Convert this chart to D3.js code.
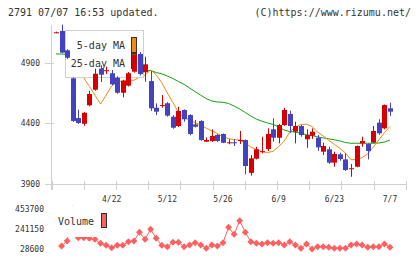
<!DOCTYPE html>
<html>
<head>
<meta charset="utf-8">
<script src="https://cdn.jsdelivr.net/npm/d3@7"></script>
<style>
body { margin: 0; background: #fff; }
svg text { font-family: "DejaVu Sans Mono", monospace; fill: #333; }
</style>
</head>
<body>
<div id="viz_div"></div>
<script>
// daily candles
var open_v  = [5150,5166,5005,4773,4443,4396,4549,4678,4853,4836,4815,4778,4653,4712,4828,4975,4823,4750,4529,4548,
               4566,4454,4377,4510,4468,4391,4419,4247,4253,4303,4311,4240,4242,4258,4261,3988,4106,4160,4186,4350,
               4280,4385,4477,4330,4377,4267,4297,4280,4164,4184,4073,4142,4100,4025,4039,4233,4228,4239,4405,4358,4524];
var high_v  = [5160,5218,5014,4780,4512,4492,4670,4853,4881,4870,4842,4790,4760,4825,4980,4990,4952,4834,4565,4634,
               4575,4468,4537,4515,4475,4427,4425,4283,4350,4310,4315,4267,4267,4336,4265,4136,4205,4288,4358,4441,
               4395,4529,4504,4413,4385,4350,4358,4302,4239,4205,4164,4156,4150,4062,4215,4288,4233,4377,4433,4555,4571];
var low_v   = [5148,4982,4933,4410,4395,4380,4541,4670,4742,4809,4715,4645,4615,4705,4820,4795,4745,4502,4468,4529,
               4455,4355,4369,4413,4300,4365,4255,4245,4245,4245,4235,4225,4211,4228,3976,3965,4100,4150,4170,4247,
               4233,4378,4322,4233,4288,4197,4270,4170,4136,4062,4039,4089,4005,3956,4035,4205,4100,4235,4303,4350,4460];
var close_v = [5155,4986,4944,4419,4402,4487,4643,4811,4803,4840,4723,4653,4753,4815,4966,4808,4889,4524,4496,4551,
               4463,4363,4502,4433,4311,4371,4261,4261,4294,4253,4238,4242,4238,4261,4045,4109,4184,4168,4311,4280,
               4385,4510,4377,4377,4302,4302,4330,4200,4211,4073,4145,4103,4012,4027,4211,4253,4170,4336,4317,4551,4496];

// moving average lines as drawn (the first points sit under the legend box)
var ma5 = [null,null,5080,5040,4930,4775,4707,4633,4560,4633,4709,4745,4751,4755,4757,4782,4799,4842,4802,4737,
           4651,4572,4489,4447,4429,4405,4384,4358,4336,4315,4288,4273,4263,4261,4233,4203,4182,4165,4157,4167,
           4206,4253,4327,4369,4390,4392,4373,4327,4294,4258,4224,4192,4153,4097,4099,4116,4145,4203,4261,4322,4373];
var ma25 = [4975,4975,4970,4962,4955,4948,4940,4930,4920,4910,4900,4890,4880,4868,4855,4845,4835,4838,4821,4810,
            4792,4771,4746,4723,4692,4662,4633,4604,4585,4576,4574,4564,4543,4518,4489,4460,4434,4417,4402,4390,
            4369,4344,4331,4326,4317,4305,4298,4287,4278,4271,4263,4253,4240,4234,4234,4234,4234,4234,4236,4244,4261];

var volume = [null,60500,113600,453700,148700,148700,142300,131700,89200,67900,42400,67900,67900,106200,113600,206100,131700,238000,142300,67900,
              53000,99800,99800,53000,71100,95600,71100,36000,71100,60500,95600,259200,184800,329400,206100,106200,89200,81700,95600,89200,
              95600,71100,106200,71100,36000,81700,28600,53000,53000,46700,36000,36000,36000,71100,81700,71100,46700,53000,53000,81700,46700];

var date_labels = ["4/22","5/12","5/26","6/9","6/23","7/7"];
var date_index  = [10,20,30,40,50,60];

var price_ticks = [3900,4400,4900];
var vol_ticks = [28600,241150,453700];

var w = 420, h = 259;

var svg = d3.select("#viz_div").append("svg")
	.attr("width", w).attr("height", h);

var x = d3.scaleLinear().domain([0, close_v.length - 1]).range([56, 390]);
var y = d3.scaleLinear().domain([3900, 4900]).range([183.5, 63]);
var yv = d3.scaleLinear().domain([28600, 453700]).range([249, 209]);

var axis_col = "#d0d0d0";
var red = "#d60000", blue = "#4343bf";

// header
svg.append("text").attr("x", 8).attr("y", 16).style("font-size", "10px")
	.text("2791 07/07 16:53 updated.");
svg.append("text").attr("x", 411).attr("y", 16).style("font-size", "10px")
	.attr("text-anchor", "end").text("(C)https://www.rizumu.net/");

// axes
svg.append("line").attr("x1", 51.5).attr("x2", 51.5).attr("y1", 25).attr("y2", 190)
	.attr("stroke", axis_col);
svg.append("line").attr("x1", 51).attr("x2", 406).attr("y1", 184.5).attr("y2", 184.5)
	.attr("stroke", axis_col);
var grid_x = d3.range(12).map(function(k) { return 51.5 + k * 32.2; });
svg.selectAll(".xtick").data(grid_x).enter().append("line")
	.attr("x1", function(d) { return Math.round(d) + 0.5; })
	.attr("x2", function(d) { return Math.round(d) + 0.5; })
	.attr("y1", 181).attr("y2", 190).attr("stroke", axis_col);

svg.selectAll(".ytick").data(price_ticks).enter().append("line")
	.attr("x1", 45).attr("x2", 54)
	.attr("y1", function(d) { return Math.round(y(d)) + 0.5; })
	.attr("y2", function(d) { return Math.round(y(d)) + 0.5; })
	.attr("stroke", axis_col);
svg.selectAll(".ylab").data(price_ticks).enter().append("text")
	.attr("x", 40).attr("y", function(d) { return y(d) + 3; })
	.attr("text-anchor", "end").style("font-size", "8px")
	.text(function(d) { return d; });

svg.selectAll(".xlab").data(date_labels).enter().append("text")
	.attr("x", function(d, i) { return x(date_index[i]); })
	.attr("y", 202).attr("text-anchor", "middle").style("font-size", "8px")
	.text(function(d) { return d; });

// moving averages
function ma_line(vals, col) {
	var pts = vals.map(function(v, i) { return [i, v]; }).filter(function(p) { return p[1] !== null; });
	svg.append("path").datum(pts)
		.attr("fill", "none").attr("stroke", col).attr("stroke-width", 1)
		.attr("d", d3.line().x(function(p) { return x(p[0]); }).y(function(p) { return y(p[1]); }));
}
ma_line(ma25, "#13a013");
ma_line(ma5, "#f08a10");

// legend box for MA
svg.append("rect").attr("x", 65.5).attr("y", 30.5).attr("width", 78).attr("height", 47)
	.attr("fill", "#fff").attr("stroke", "#d0d0d0");
svg.append("text").attr("x", 125).attr("y", 49).attr("text-anchor", "end")
	.style("font-size", "10px").text("5-day MA");
svg.append("text").attr("x", 125).attr("y", 67).attr("text-anchor", "end")
	.style("font-size", "10px").text("25-day MA");
svg.append("rect").attr("x", 131.5).attr("y", 37.5).attr("width", 5).attr("height", 15)
	.attr("fill", "#f08a10").attr("stroke", "#333");
svg.append("rect").attr("x", 131.5).attr("y", 53.5).attr("width", 5).attr("height", 15)
	.attr("fill", "#13a013").attr("stroke", "#333");

// candles
var idx = d3.range(close_v.length);
var cg = svg.append("g");
cg.selectAll(".wick").data(idx).enter().append("line")
	.attr("x1", function(i) { return Math.round(x(i)) + 0.5; })
	.attr("x2", function(i) { return Math.round(x(i)) + 0.5; })
	.attr("y1", function(i) { return y(high_v[i]); })
	.attr("y2", function(i) { return y(low_v[i]); })
	.attr("stroke", function(i) { return close_v[i] >= open_v[i] ? red : blue; });
cg.selectAll(".body").data(idx).enter().append("rect")
	.attr("x", function(i) { return Math.round(x(i)) - 2; })
	.attr("width", 5)
	.attr("y", function(i) { return y(Math.max(open_v[i], close_v[i])); })
	.attr("height", function(i) { return Math.max(1, Math.abs(y(open_v[i]) - y(close_v[i]))); })
	.attr("fill", function(i) { return close_v[i] >= open_v[i] ? red : blue; });

// volume
var vcol = "#ff5f5f";
var vpts = idx.filter(function(i) { return volume[i] !== null; });
svg.append("path").datum(vpts)
	.attr("fill", "none").attr("stroke", vcol).attr("stroke-width", 1)
	.attr("d", d3.line().x(function(i) { return x(i); }).y(function(i) { return yv(volume[i]); }));
svg.selectAll(".vdot").data(vpts).enter().append("path")
	.attr("transform", function(i) { return "translate(" + x(i) + "," + yv(volume[i]) + ")"; })
	.attr("d", d3.symbol(d3.symbolDiamond2, 30))
	.attr("fill", vcol);

svg.append("rect").attr("x", 55).attr("y", 206).attr("width", 58).attr("height", 31)
	.attr("fill", "#fff");
svg.append("text").attr("x", 58).attr("y", 225).style("font-size", "10px").text("Volume");
svg.append("rect").attr("x", 101.5).attr("y", 213.5).attr("width", 5).attr("height", 14)
	.attr("fill", vcol).attr("stroke", "#333");

svg.selectAll(".vlab").data(vol_ticks).enter().append("text")
	.attr("x", 44).attr("y", function(d) { return yv(d) + 3; })
	.attr("text-anchor", "end").style("font-size", "8px")
	.text(function(d) { return d; });
</script>
</body>
</html>
